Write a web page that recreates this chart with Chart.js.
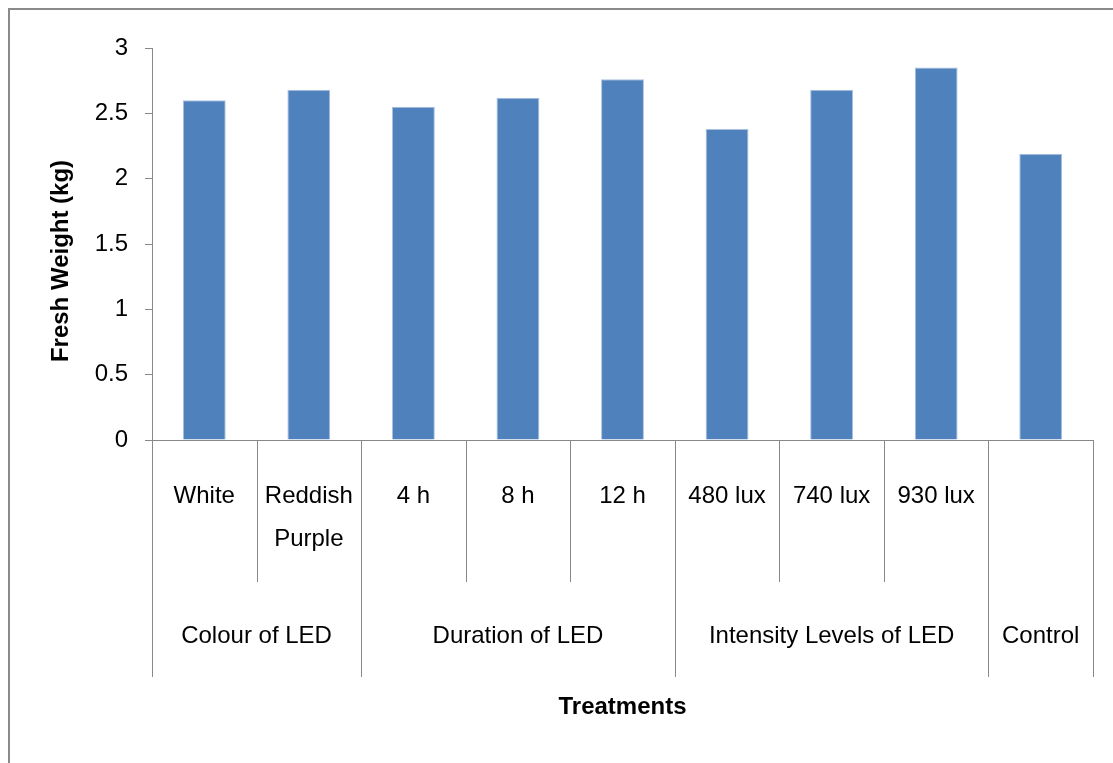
<!DOCTYPE html>
<html>
<head>
<meta charset="utf-8">
<script src="https://cdn.jsdelivr.net/npm/chart.js@4.4.1/dist/chart.umd.min.js"></script>
<style>
  html, body { margin: 0; padding: 0; background: #fff; overflow: hidden; }
  #wrap { position: relative; width: 1113px; height: 763px; }
</style>
</head>
<body>
<div id="wrap"><canvas id="c" width="1113" height="763"></canvas></div>
<script>
// ---- data ----
const categories = ['White', ['Reddish', 'Purple'], '4 h', '8 h', '12 h', '480 lux', '740 lux', '930 lux', ''];
const freshWeight = [2.60, 2.68, 2.55, 2.62, 2.76, 2.38, 2.68, 2.85, 2.19];
const groupLabels = ['Colour of LED', 'Duration of LED', 'Intensity Levels of LED', 'Control'];
const groupSpans = [2, 3, 3, 1];
const yTickValues = [0, 0.5, 1, 1.5, 2, 2.5, 3];
const yAxisTitle = 'Fresh Weight (kg)';
const xAxisTitle = 'Treatments';

const FONT = "'Liberation Sans', Arial, sans-serif";
const LINE = '#888888';

const decorPlugin = {
  id: 'decor',
  afterDraw(chart) {
    const ctx = chart.ctx;
    const x = chart.scales.x;
    const area = chart.chartArea;
    const half = (x.getPixelForValue(1) - x.getPixelForValue(0)) / 2;
    const groupBounds = new Set([0]);
    let acc = 0;
    groupSpans.forEach(s => { acc += s; groupBounds.add(acc); });
    ctx.save();
    ctx.strokeStyle = LINE;
    ctx.lineWidth = 1;
    for (let i = 0; i <= categories.length; i++) {
      const px = Math.round(x.getPixelForValue(i) - half) + 0.5;
      const yEnd = groupBounds.has(i) ? area.bottom + 237 : area.bottom + 142;
      ctx.beginPath();
      ctx.moveTo(px, area.bottom);
      ctx.lineTo(px, yEnd);
      ctx.stroke();
    }
    ctx.fillStyle = '#000';
    ctx.font = '24px ' + FONT;
    ctx.textAlign = 'center';
    ctx.textBaseline = 'middle';
    let start = 0;
    groupLabels.forEach((g, k) => {
      const end = start + groupSpans[k] - 1;
      const cx = (x.getPixelForValue(start) + x.getPixelForValue(end)) / 2;
      ctx.fillText(g, cx, area.bottom + 196);
      start += groupSpans[k];
    });
    ctx.save();
    ctx.translate(61, 261);
    ctx.rotate(-Math.PI / 2);
    ctx.font = 'bold 24px ' + FONT;
    ctx.fillText(yAxisTitle, 0, 0);
    ctx.restore();
    ctx.strokeStyle = '#8a8a8a';
    ctx.lineWidth = 2;
    ctx.beginPath();
    ctx.moveTo(9, chart.height);
    ctx.lineTo(9, 9);
    ctx.lineTo(chart.width, 9);
    ctx.stroke();
    ctx.restore();
  }
};

new Chart(document.getElementById('c'), {
  type: 'bar',
  data: {
    labels: categories,
    datasets: [{
      data: freshWeight,
      backgroundColor: '#4F81BD',
      borderColor: '#a9c0de',
      borderWidth: 1,
      categoryPercentage: 1,
      barPercentage: 0.41
    }]
  },
  options: {
    responsive: false,
    animation: false,
    devicePixelRatio: 1,
    layout: { padding: { left: 0, top: 48, right: 20, bottom: 0 } },
    plugins: { legend: { display: false }, tooltip: { enabled: false } },
    scales: {
      x: {
        type: 'category',
        grid: { display: true, drawOnChartArea: false, drawTicks: false, offset: true, color: 'rgba(0,0,0,0)' },
        border: { display: true, color: LINE, width: 1 },
        ticks: {
          color: '#000',
          font: { family: FONT, size: 24, lineHeight: 1.8 },
          padding: 35,
          maxRotation: 0,
          autoSkip: false
        },
        title: {
          display: true,
          text: xAxisTitle,
          color: '#000',
          font: { family: FONT, size: 24, weight: 'bold', lineHeight: 1.2 },
          padding: { top: 0, bottom: 41 }
        },
        afterFit(scale) { scale.height = 323; }
      },
      y: {
        min: 0,
        max: 3,
        afterBuildTicks(scale) { scale.ticks = yTickValues.map(v => ({ value: v })); },
        grid: { display: true, drawOnChartArea: false, drawTicks: true, tickLength: 7, color: LINE },
        border: { display: true, color: LINE, width: 1 },
        ticks: {
          color: '#000',
          font: { family: FONT, size: 24 },
          padding: 17,
          callback: (v) => String(v)
        },
        afterFit(scale) { scale.width = 152; }
      }
    }
  },
  plugins: [decorPlugin]
});
</script>
</body>
</html>
